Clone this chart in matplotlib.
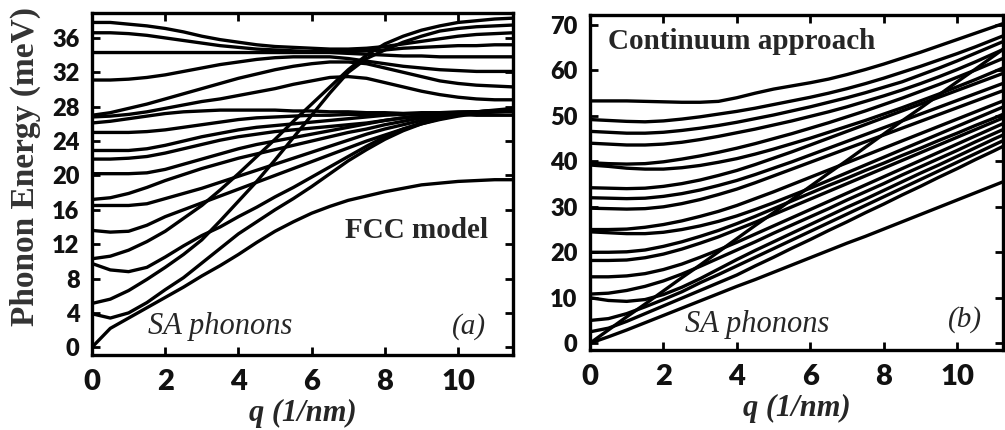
import numpy as np
import matplotlib
matplotlib.use("Agg")
import matplotlib.pyplot as plt

# ================= data =================
q = [0, 0.5, 1, 1.5, 2, 2.5, 3, 3.5, 4, 4.5, 5, 5.5, 6, 6.5, 7, 7.5, 8, 8.5, 9, 9.5, 10, 10.5, 11, 11.5]

# (a) FCC model, energies in meV
fcc_branches = [
    [37.8, 37.8, 37.6, 37.4, 37.1, 36.7, 36.2, 35.8, 35.5, 35.2, 35.0, 34.9, 34.8, 34.7, 34.7, 34.8, 35.0, 35.3, 35.6, 35.9, 36.2, 36.4, 36.5, 36.6],
    [36.6, 36.6, 36.5, 36.3, 36.0, 35.7, 35.4, 35.1, 34.9, 34.7, 34.6, 34.5, 34.4, 34.4, 34.4, 34.5, 34.6, 34.8, 34.9, 35.0, 35.1, 35.1, 35.2, 35.2],
    [34.3, 34.3, 34.3, 34.3, 34.3, 34.3, 34.3, 34.3, 34.3, 34.3, 34.3, 34.3, 34.3, 34.3, 34.2, 34.1, 34.0, 33.9, 33.9, 33.8, 33.8, 33.8, 33.8, 33.8],
    [31.1, 31.1, 31.2, 31.4, 31.7, 32.1, 32.5, 32.9, 33.2, 33.5, 33.7, 33.8, 33.8, 33.8, 33.6, 33.3, 33.0, 32.7, 32.5, 32.3, 32.2, 32.1, 32.1, 32.1],
    [27.0, 27.3, 27.8, 28.3, 28.9, 29.5, 30.1, 30.7, 31.3, 31.8, 32.3, 32.7, 33.0, 33.2, 33.2, 33.0, 32.5, 32.0, 31.5, 31.0, 30.7, 30.5, 30.4, 30.3],
    [26.8, 26.9, 27.1, 27.4, 27.8, 28.2, 28.6, 28.9, 29.3, 29.7, 30.1, 30.6, 31.0, 31.4, 31.5, 31.3, 30.8, 30.3, 29.8, 29.4, 29.1, 28.9, 28.8, 28.8],
    [26.1, 26.3, 26.6, 26.9, 27.2, 27.4, 27.5, 27.6, 27.6, 27.6, 27.6, 27.5, 27.5, 27.4, 27.4, 27.3, 27.3, 27.2, 27.2, 27.1, 27.1, 27.0, 27.0, 27.0],
    [25.0, 25.0, 25.0, 25.1, 25.3, 25.6, 25.9, 26.2, 26.5, 26.7, 26.8, 26.9, 27.0, 27.0, 27.1, 27.1, 27.2, 27.2, 27.3, 27.3, 27.3, 27.4, 27.4, 27.4],
    [22.9, 22.9, 22.9, 23.1, 23.5, 24.0, 24.5, 24.9, 25.3, 25.6, 25.8, 26.0, 26.2, 26.4, 26.6, 26.8, 27.0, 27.1, 27.2, 27.3, 27.4, 27.4, 27.5, 27.5],
    [21.9, 21.9, 22.0, 22.2, 22.6, 23.1, 23.6, 24.1, 24.5, 24.8, 25.1, 25.3, 25.5, 25.7, 25.9, 26.1, 26.4, 26.7, 26.9, 27.1, 27.3, 27.4, 27.5, 27.6],
    [20.2, 20.2, 20.2, 20.3, 20.7, 21.3, 21.9, 22.5, 23.1, 23.6, 24.0, 24.4, 24.8, 25.2, 25.6, 26.0, 26.4, 26.7, 27.0, 27.2, 27.3, 27.4, 27.5, 27.6],
    [17.2, 17.4, 17.9, 18.6, 19.4, 20.1, 20.8, 21.4, 22.0, 22.5, 23.0, 23.5, 24.0, 24.5, 25.0, 25.4, 25.9, 26.3, 26.7, 27.0, 27.2, 27.4, 27.5, 27.6],
    [16.5, 16.5, 16.5, 16.7, 17.3, 17.9, 18.5, 19.2, 19.9, 20.6, 21.3, 22.0, 22.7, 23.4, 24.1, 24.8, 25.4, 25.9, 26.4, 26.8, 27.1, 27.3, 27.4, 27.5],
    [13.6, 13.4, 13.5, 14.2, 15.2, 16.0, 16.8, 17.6, 18.4, 19.2, 20.0, 20.8, 21.6, 22.4, 23.2, 24.0, 24.7, 25.4, 26.0, 26.5, 26.9, 27.2, 27.4, 27.5],
    [10.3, 10.6, 11.3, 12.3, 13.5, 15.0, 16.5, 18.3, 20.2, 22.2, 24.2, 26.3, 28.3, 30.3, 32.3, 34.0, 35.3, 36.2, 36.9, 37.4, 37.8, 38.0, 38.2, 38.3],
    [9.75, 9.0, 8.8, 9.3, 10.5, 11.8, 13.0, 14.0, 15.2, 16.3, 17.5, 18.6, 19.8, 21.0, 22.2, 23.4, 24.5, 25.4, 26.1, 26.7, 27.1, 27.4, 27.6, 27.8],
    [5.1, 5.6, 6.6, 7.9, 9.3, 10.8, 12.5, 14.7, 17.0, 19.3, 21.8, 24.4, 27.0, 29.6, 32.0, 33.6, 34.6, 35.5, 36.2, 36.8, 37.1, 37.3, 37.4, 37.5],
    [3.9, 3.4, 4.0, 5.2, 6.7, 8.1, 9.8, 11.5, 13.2, 14.6, 16.0, 17.3, 18.7, 20.2, 21.7, 23.0, 24.2, 25.2, 26.0, 26.6, 27.0, 27.3, 27.5, 27.6],
    [0.0, 2.2, 3.4, 4.6, 5.8, 7.0, 8.3, 9.5, 10.8, 12.2, 13.5, 14.6, 15.6, 16.4, 17.1, 17.6, 18.1, 18.5, 18.9, 19.1, 19.3, 19.4, 19.5, 19.5],
]

# (b) continuum approach, energies in meV
cont_branches = [
    [53.3, 53.3, 53.3, 53.2, 53.1, 53.0, 53.0, 53.2, 54.0, 55.0, 55.9, 56.6, 57.3, 58.1, 59.1, 60.2, 61.4, 62.7, 64.0, 65.4, 66.8, 68.2, 69.6, 71.0],
    [49.2, 49.0, 48.8, 48.7, 48.9, 49.3, 49.8, 50.4, 51.0, 51.7, 52.5, 53.3, 54.1, 55.0, 56.0, 57.1, 58.3, 59.6, 60.9, 62.3, 63.7, 65.2, 66.8, 68.4],
    [46.6, 46.4, 46.2, 46.2, 46.4, 46.8, 47.3, 47.9, 48.6, 49.4, 50.2, 51.1, 52.0, 53.0, 54.0, 55.1, 56.3, 57.5, 59.0, 60.5, 62.1, 63.8, 65.5, 67.2],
    [44.0, 43.8, 43.6, 43.6, 43.8, 44.2, 44.8, 45.5, 46.3, 47.1, 48.0, 48.9, 49.9, 50.9, 52.0, 53.2, 54.4, 55.7, 57.1, 58.6, 60.2, 61.9, 63.7, 65.5],
    [39.7, 39.5, 39.4, 39.5, 39.9, 40.5, 41.2, 42.0, 42.9, 43.9, 45.0, 46.1, 47.3, 48.5, 49.8, 51.1, 52.5, 53.9, 55.4, 56.9, 58.5, 60.1, 61.8, 63.5],
    [39.2, 38.9, 38.5, 38.3, 38.3, 38.6, 39.1, 39.8, 40.6, 41.6, 42.7, 43.9, 45.1, 46.4, 47.7, 49.0, 50.4, 51.8, 53.3, 54.8, 56.4, 58.0, 59.7, 61.4],
    [34.2, 34.1, 34.0, 34.1, 34.5, 35.1, 35.9, 36.9, 38.0, 39.3, 40.7, 42.1, 43.6, 45.1, 46.6, 48.1, 49.6, 51.1, 52.6, 54.1, 55.6, 57.1, 58.6, 60.1],
    [32.0, 31.9, 31.8, 31.9, 32.3, 32.9, 33.7, 34.7, 35.8, 37.1, 38.5, 39.9, 41.4, 42.9, 44.4, 45.9, 47.4, 48.9, 50.4, 51.9, 53.4, 54.9, 56.4, 57.9],
    [29.7, 29.6, 29.5, 29.6, 30.0, 30.7, 31.6, 32.7, 33.9, 35.3, 36.8, 38.3, 39.8, 41.3, 42.8, 44.3, 45.8, 47.3, 48.8, 50.3, 51.8, 53.3, 54.8, 56.3],
    [25.0, 25.0, 25.1, 25.5, 26.1, 26.9, 27.9, 29.0, 30.3, 31.8, 33.3, 34.9, 36.5, 38.1, 39.7, 41.3, 42.9, 44.5, 46.1, 47.7, 49.3, 50.9, 52.5, 54.1],
    [24.5, 24.3, 24.1, 24.1, 24.4, 25.0, 25.8, 26.8, 28.0, 29.4, 30.9, 32.5, 34.1, 35.8, 37.5, 39.2, 40.9, 42.6, 44.3, 46.0, 47.7, 49.4, 51.1, 52.8],
    [20.0, 20.0, 20.1, 20.5, 21.3, 22.3, 23.5, 24.8, 26.3, 27.9, 29.6, 31.3, 33.0, 34.7, 36.3, 38.0, 39.6, 41.3, 42.9, 44.6, 46.2, 47.9, 49.5, 51.2],
    [18.2, 18.2, 18.3, 18.8, 19.6, 20.7, 22.0, 23.4, 25.0, 26.6, 28.3, 30.0, 31.7, 33.4, 35.1, 36.8, 38.5, 40.2, 41.9, 43.6, 45.3, 47.0, 48.7, 50.4],
    [14.6, 14.6, 14.8, 15.3, 16.2, 17.4, 18.9, 20.5, 22.2, 24.0, 25.8, 27.6, 29.4, 31.2, 33.0, 34.8, 36.6, 38.4, 40.2, 42.0, 43.8, 45.6, 47.4, 49.2],
    [10.8, 11.0, 11.6, 12.5, 13.7, 15.2, 16.9, 18.7, 20.5, 22.3, 24.2, 26.0, 27.8, 29.6, 31.5, 33.3, 35.1, 37.0, 38.8, 40.6, 42.4, 44.3, 46.1, 47.9],
    [10.0, 9.4, 9.2, 9.6, 10.7, 12.3, 14.2, 16.3, 18.4, 20.4, 22.3, 24.2, 26.1, 28.0, 29.9, 31.7, 33.6, 35.5, 37.4, 39.2, 41.1, 43.0, 44.9, 46.7],
    [5.0, 5.4, 6.5, 8.0, 9.6, 11.3, 13.3, 15.1, 17.0, 18.9, 20.8, 22.7, 24.6, 26.5, 28.4, 30.3, 32.2, 34.1, 36.0, 37.9, 39.8, 41.7, 43.6, 45.5],
    [2.5, 3.3, 4.8, 6.5, 8.2, 9.9, 11.6, 13.3, 15.0, 17.0, 18.9, 20.9, 22.8, 24.8, 26.7, 28.7, 30.6, 32.6, 34.5, 36.5, 38.4, 40.4, 42.3, 44.3],
    [0.0, 2.9, 5.8, 8.6, 11.5, 14.4, 17.2, 20.1, 23.0, 25.9, 28.7, 31.6, 34.5, 37.4, 40.2, 43.1, 46.0, 48.9, 51.7, 54.6, 57.5, 60.3, 63.2, 66.1],
    [0.0, 1.4, 2.9, 4.5, 6.1, 7.7, 9.3, 10.9, 12.5, 14.0, 15.6, 17.2, 18.8, 20.4, 22.0, 23.5, 25.1, 26.7, 28.3, 29.9, 31.5, 33.1, 34.7, 36.3],
]

fcc_yticks = [0, 4, 8, 12, 16, 20, 24, 28, 32, 36]
cont_yticks = [0, 10, 20, 30, 40, 50, 60, 70]
xticks = [0, 2, 4, 6, 8, 10]

TXT = "#262626"
SERIF = "Liberation Serif"
TICKFONT = "Lato"


def style_axes(ax, yticks):
    ax.set_xticks(xticks)
    ax.set_yticks(yticks)
    ax.tick_params(direction="in", which="major", length=6, width=2,
                   top=True, right=True, colors="k")
    ax.tick_params(axis="x", labelsize=21, pad=10)
    ax.tick_params(axis="y", labelsize=17, pad=9)
    for lab in ax.get_xticklabels() + ax.get_yticklabels():
        lab.set_fontfamily(TICKFONT)
        lab.set_fontweight("heavy")
        lab.set_color("#111111")
    for sp in ax.spines.values():
        sp.set_linewidth(2.4)
    ax.set_xlabel("q (1/nm)", fontsize=22, fontfamily=SERIF, fontweight="bold",
                  fontstyle="italic", color=TXT, labelpad=3)


def main():
    fig = plt.figure(figsize=(10.05, 4.30), dpi=100)

    # ---- (a) FCC model ----
    ax1 = fig.add_axes([92 / 1005, 75 / 430, 421 / 1005, 342 / 430])
    for br in fcc_branches:
        ax1.plot(q, br, color="k", lw=2.4, solid_capstyle="round", solid_joinstyle="round")
    ax1.set_xlim(0, 11.5)
    ax1.set_ylim(-0.9, 38.9)
    style_axes(ax1, fcc_yticks)
    ax1.text(0.94, 0.363, "FCC model", transform=ax1.transAxes, ha="right", va="center",
             fontsize=21, fontfamily=SERIF, fontweight="bold", color=TXT)
    ax1.text(0.133, 0.082, "SA phonons", transform=ax1.transAxes, ha="left", va="center",
             fontsize=22, fontfamily=SERIF, fontstyle="italic", color=TXT)
    ax1.text(0.935, 0.082, "(a)", transform=ax1.transAxes, ha="right", va="center",
             fontsize=21, fontfamily=SERIF, fontstyle="italic", color=TXT)

    # ---- (b) continuum approach ----
    ax2 = fig.add_axes([590 / 1005, 80 / 430, 413 / 1005, 335 / 430])
    for br in cont_branches:
        ax2.plot(q, br, color="k", lw=2.4, solid_capstyle="round", solid_joinstyle="round")
    ax2.set_xlim(0, 11.25)
    ax2.set_ylim(-1.5, 72.2)
    style_axes(ax2, cont_yticks)
    ax2.text(0.043, 0.92, "Continuum approach", transform=ax2.transAxes, ha="left", va="center",
             fontsize=21, fontfamily=SERIF, fontweight="bold", color=TXT)
    ax2.text(0.23, 0.075, "SA phonons", transform=ax2.transAxes, ha="left", va="center",
             fontsize=22, fontfamily=SERIF, fontstyle="italic", color=TXT)
    ax2.text(0.949, 0.09, "(b)", transform=ax2.transAxes, ha="right", va="center",
             fontsize=21, fontfamily=SERIF, fontstyle="italic", color=TXT)

    fig.text(25 / 1005, 1 - 166 / 430, "Phonon Energy (meV)", rotation=90, ha="center", va="center",
             fontsize=24, fontfamily=SERIF, fontweight="bold", color="#333333")

    fig.savefig("out.png", dpi=100)


if __name__ == "__main__":
    main()
